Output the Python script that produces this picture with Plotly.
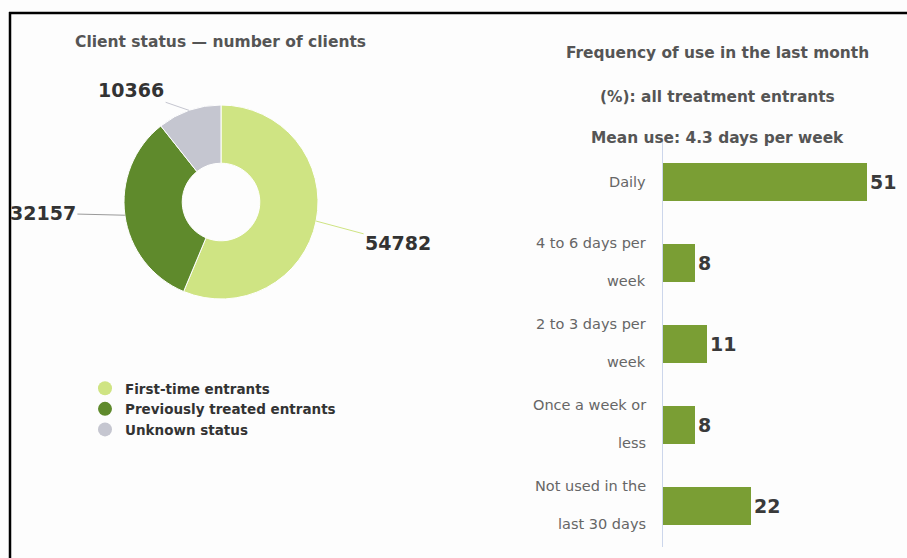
import math
import plotly.graph_objects as go

# ---------------- data ----------------
pie_labels = ["First-time entrants", "Previously treated entrants", "Unknown status"]
pie_values = [54782, 32157, 10366]
pie_colors = ["#cfe483", "#5f8a2c", "#c5c6d0"]

freq_categories = ["Daily", "4 to 6 days per<br>week", "2 to 3 days per<br>week",
                   "Once a week or<br>less", "Not used in the<br>last 30 days"]
freq_values = [51, 8, 11, 8, 22]
bar_color = "#7a9e34"

left_title = "Client status — number of clients"
right_titles = ["Frequency of use in the last month", "(%): all treatment entrants",
                "Mean use: 4.3 days per week"]

W, H = 907, 558
FONT = "DejaVu Sans"

def px(x):
    return x / W

def py(y):
    return 1 - y / H

fig = go.Figure()

# ---------------- pie ----------------
cx, cy, r = 221, 202, 97
fig.add_trace(go.Pie(
    labels=pie_labels, values=pie_values, hole=0.4, sort=False,
    direction="clockwise", rotation=0,
    marker=dict(colors=pie_colors, line=dict(color="white", width=1)),
    textinfo="none", hoverinfo="label+value", showlegend=False,
    domain=dict(x=[px(cx - r), px(cx + r)], y=[py(cy + r), py(cy - r)]),
))

annotations = []
total = sum(pie_values)
offsets = [(82, 22), (-82, -2), (-58, -20)]
cum = 0
for v, col, (ax, ay) in zip(pie_values, pie_colors, offsets):
    mid = (cum + v / 2) / total * 2 * math.pi
    cum += v
    ex = cx + r * math.sin(mid)
    ey = cy - r * math.cos(mid)
    annotations.append(dict(
        x=px(ex), y=py(ey), xref="paper", yref="paper",
        text=f"<b>{v}</b>", showarrow=True, arrowhead=0, arrowwidth=1,
        arrowcolor="#9a9a9a" if col == pie_colors[1] else col,
        ax=ax, ay=ay, font=dict(family=FONT, size=19, color="#333333"),
    ))

annotations.append(dict(
    x=px(220), y=py(42), xref="paper", yref="paper", showarrow=False,
    xanchor="center", yanchor="middle",
    text=f"<b>{left_title}</b>", font=dict(family=FONT, size=15.5, color="#555555"),
))

# legend via dummy traces
for lab, col in zip(pie_labels, pie_colors):
    fig.add_trace(go.Scatter(
        x=[None], y=[None], mode="markers", name=lab,
        marker=dict(symbol="circle", size=14, color=col),
        showlegend=True, xaxis="x", yaxis="y", hoverinfo="skip",
    ))

# ---------------- bars ----------------
fig.add_trace(go.Bar(
    x=freq_values, y=freq_categories, orientation="h",
    marker=dict(color=bar_color, line=dict(width=0)),
    texttemplate="<b>%{x}</b>", textposition="outside",
    textfont=dict(family=FONT, size=19, color="#3a3a3a"),
    cliponaxis=False, showlegend=False,
))

for cat in freq_categories:
    parts = cat.split("<br>")
    if len(parts) == 1:
        shifts = [0]
    else:
        shifts = [20, -18]
    for p, s in zip(parts, shifts):
        annotations.append(dict(
            x=px(663), y=cat, xref="paper", yref="y", xanchor="right",
            yanchor="middle", xshift=-15, yshift=s, showarrow=False, text=p,
            font=dict(family=FONT, size=14.5, color="#666666"),
        ))

for t, yy in zip(right_titles, [53, 97, 138]):
    annotations.append(dict(
        x=px(717), y=py(yy), xref="paper", yref="paper", showarrow=False,
        xanchor="center", yanchor="middle",
        text=f"<b>{t}</b>", font=dict(family=FONT, size=15.4, color="#555555"),
    ))

shapes = [
    dict(type="line", xref="paper", yref="paper", x0=px(9), x1=px(907), y0=py(13), y1=py(13),
         line=dict(color="black", width=2.5)),
    dict(type="line", xref="paper", yref="paper", x0=px(10), x1=px(10), y0=py(12), y1=py(558),
         line=dict(color="black", width=2.5)),
]

fig.update_layout(
    width=W, height=H, margin=dict(l=0, r=0, t=0, b=0),
    paper_bgcolor="#fdfdfd", plot_bgcolor="rgba(0,0,0,0)",
    font=dict(family=FONT),
    bargap=0.53,
    xaxis=dict(type="linear", domain=[px(663), 1], range=[0, (W - 663) / 4.0],
               visible=False, fixedrange=True),
    yaxis=dict(type="category", domain=[py(546.5), py(141.5)], autorange="reversed",
               categoryorder="array", categoryarray=freq_categories,
               showticklabels=False, ticks="", showgrid=False, zeroline=False,
               showline=True, linecolor="#ccd6eb", linewidth=1, fixedrange=True),
    legend=dict(x=px(85), y=py(373), xanchor="left", yanchor="top",
                font=dict(family=FONT, size=13.5, color="#333333", weight="bold"),
                bgcolor="rgba(0,0,0,0)", itemclick=False, tracegroupgap=0),
    annotations=annotations, shapes=shapes,
)

fig.write_html("out.html", config={"displayModeBar": False},
               post_script="document.body.style.margin='0px';")
